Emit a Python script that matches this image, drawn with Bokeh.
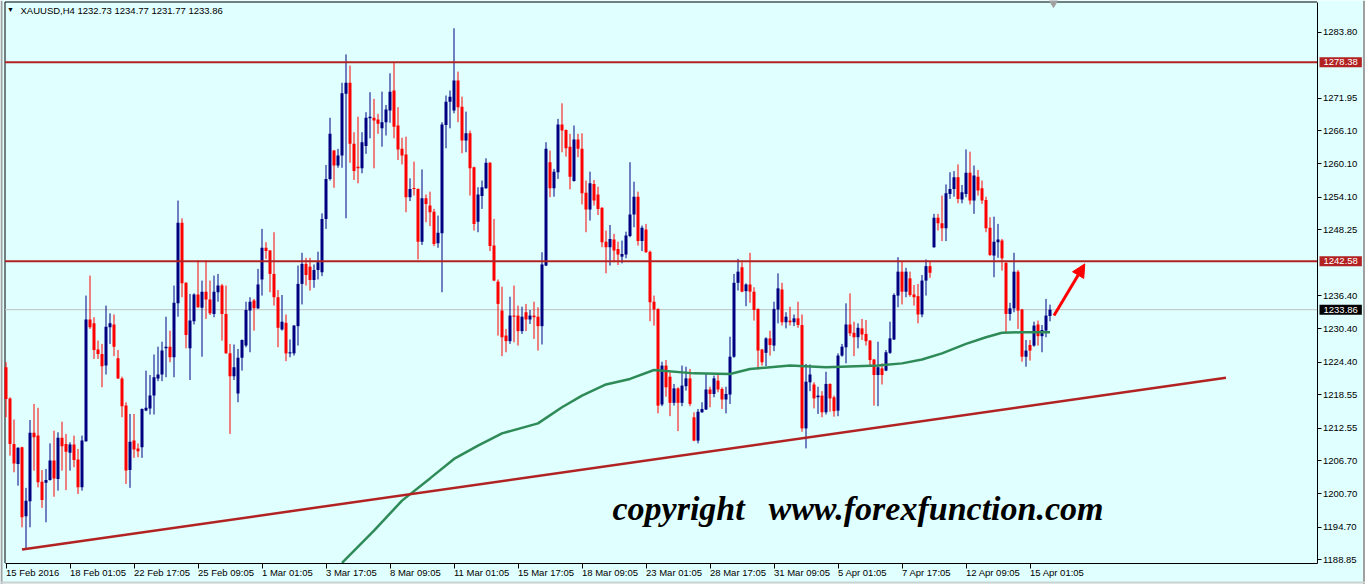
import numpy as np
from bokeh.plotting import figure
from bokeh.models import (Range1d, FixedTicker, Label, Arrow, NormalHead, ColumnDataSource,
                          LinearAxis)
from bokeh.core.properties import value
from bokeh.embed import file_html
from bokeh.resources import INLINE

# ---------------- data ----------------
symbol = "XAUUSD,H4"
last_ohlc = ["1232.73", "1234.77", "1231.77", "1233.86"]

opens = [1223.5, 1217.9, 1209.7, 1206.1, 1209.1, 1196.7, 1199.4, 1211.7, 1211.2, 1202.9,
         1202.7, 1203.2, 1206.7, 1203.4, 1210.8, 1209.7, 1208.1, 1209.6, 1206.9, 1201.9,
         1210.2, 1232.1, 1231.4, 1226.7, 1225.9, 1223.8, 1230.7, 1231.2, 1225.1, 1221.5,
         1216.6, 1205.0, 1210.3, 1208.9, 1209.1, 1215.7, 1216.1, 1218.4, 1221.5, 1222.2,
         1226.9, 1227.2, 1225.3, 1235.0, 1249.5, 1238.7, 1226.9, 1231.8, 1236.6, 1234.2,
         1237.1, 1235.7, 1233.1, 1237.0, 1238.2, 1233.1, 1226.0, 1221.9, 1218.8, 1225.2,
         1227.4, 1233.7, 1235.5, 1234.1, 1239.3, 1245.0, 1244.5, 1240.3, 1236.1, 1230.3,
         1231.5, 1226.0, 1226.0, 1230.9, 1238.5, 1242.1, 1241.6, 1239.2, 1241.0, 1240.6,
         1250.2, 1257.4, 1262.5, 1259.8, 1261.6, 1272.7, 1274.7, 1263.7, 1259.6, 1259.3,
         1263.3, 1268.3, 1268.4, 1268.1, 1266.5, 1267.6, 1269.7, 1273.3, 1267.0, 1262.8,
         1261.8, 1254.1, 1255.7, 1255.6, 1246.1, 1253.9, 1252.6, 1251.5, 1245.8, 1247.6,
         1267.1, 1271.3, 1269.7, 1275.1, 1270.4, 1264.3, 1265.6, 1259.5, 1249.7, 1254.3,
         1255.7, 1260.3, 1245.4, 1238.9, 1233.7, 1229.2, 1228.2, 1232.8, 1232.8, 1230.0,
         1233.4, 1232.1, 1232.8, 1232.6, 1230.9, 1241.8, 1260.4, 1255.7, 1258.6, 1267.2,
         1266.2, 1263.2, 1257.0, 1264.5, 1262.8, 1254.9, 1251.9, 1256.5, 1254.6, 1252.2,
         1246.1, 1245.1, 1246.5, 1244.8, 1243.4, 1243.8, 1247.1, 1251.0, 1254.2, 1246.2,
         1248.3, 1244.3, 1235.3, 1234.0, 1216.8, 1223.8, 1221.8, 1217.1, 1219.7, 1217.1,
         1220.1, 1221.5, 1214.5, 1210.3, 1215.4, 1215.9, 1219.5, 1218.7, 1221.1, 1219.6,
         1217.7, 1218.6, 1225.4, 1238.7, 1241.5, 1237.2, 1238.4, 1237.1, 1234.0, 1226.7,
         1226.1, 1228.7, 1227.4, 1233.9, 1237.5, 1231.6, 1231.9, 1231.6, 1232.3, 1231.1,
         1212.5, 1220.8, 1220.4, 1218.1, 1218.4, 1215.4, 1220.5, 1218.1, 1215.7, 1225.6,
         1227.1, 1231.2, 1229.7, 1228.9, 1230.5, 1229.5, 1228.3, 1224.9, 1222.1, 1223.3,
         1222.9, 1226.1, 1228.5, 1236.4, 1240.7, 1237.1, 1239.5, 1236.6, 1236.3, 1233.0,
         1239.1, 1241.7, 1245.1, 1250.4, 1249.4, 1248.5, 1254.7, 1255.6, 1257.7, 1253.7,
         1254.7, 1258.5, 1253.5, 1257.8, 1255.7, 1253.6, 1248.6, 1243.6, 1246.0, 1246.3,
         1242.3, 1233.1, 1234.1, 1240.7, 1233.9, 1225.4, 1227.5, 1227.4, 1231.2, 1229.1,
         1230.1, 1232.73]
highs = [1224.4, 1218.1, 1214.1, 1209.1, 1209.2, 1201.8, 1214.0, 1216.9, 1216.2, 1205.0,
         1205.2, 1209.8, 1212.1, 1211.8, 1213.7, 1211.5, 1210.0, 1211.2, 1208.8, 1211.2,
         1236.4, 1240.0, 1232.5, 1228.3, 1227.7, 1234.6, 1233.2, 1233.0, 1226.6, 1221.8,
         1217.2, 1215.1, 1215.1, 1209.8, 1216.1, 1222.9, 1222.1, 1225.8, 1227.2, 1228.1,
         1232.6, 1230.1, 1238.2, 1253.5, 1250.3, 1238.8, 1236.7, 1236.8, 1242.7, 1239.1,
         1242.7, 1239.1, 1240.0, 1240.3, 1238.5, 1238.2, 1227.7, 1227.6, 1226.8, 1228.5,
         1235.3, 1236.1, 1235.8, 1241.2, 1248.4, 1246.0, 1244.6, 1247.8, 1237.4, 1236.5,
         1233.0, 1228.5, 1231.1, 1241.8, 1244.1, 1243.2, 1243.2, 1242.0, 1244.3, 1251.2,
         1259.9, 1268.4, 1262.6, 1262.8, 1274.7, 1279.8, 1277.8, 1265.8, 1268.6, 1265.8,
         1269.4, 1273.0, 1271.8, 1269.1, 1273.1, 1270.7, 1276.4, 1278.4, 1270.3, 1264.8,
         1265.0, 1257.5, 1260.5, 1255.7, 1259.1, 1254.6, 1255.1, 1252.0, 1250.8, 1267.6,
         1272.4, 1273.3, 1284.5, 1276.7, 1272.2, 1269.5, 1266.1, 1259.6, 1255.9, 1257.1,
         1261.1, 1260.4, 1250.2, 1239.3, 1238.0, 1230.4, 1236.2, 1238.2, 1234.6, 1234.4,
         1234.9, 1233.8, 1235.3, 1234.3, 1244.2, 1264.0, 1262.5, 1259.2, 1268.2, 1271.0,
         1266.3, 1265.5, 1267.0, 1265.5, 1265.6, 1257.1, 1258.7, 1257.2, 1256.0, 1252.3,
         1248.1, 1249.1, 1247.5, 1246.1, 1246.3, 1247.9, 1260.4, 1256.9, 1255.1, 1249.0,
         1249.3, 1244.5, 1236.4, 1234.1, 1224.5, 1224.8, 1222.6, 1220.5, 1219.9, 1223.8,
         1223.6, 1223.2, 1215.4, 1216.0, 1217.2, 1222.3, 1220.0, 1222.0, 1222.4, 1219.9,
         1220.0, 1229.0, 1240.3, 1243.0, 1242.4, 1238.6, 1244.1, 1237.9, 1234.1, 1226.8,
         1228.9, 1230.1, 1235.3, 1240.4, 1238.7, 1233.4, 1234.4, 1233.0, 1235.3, 1233.0,
         1224.1, 1224.0, 1220.8, 1220.0, 1219.2, 1222.7, 1220.6, 1218.4, 1226.0, 1227.7,
         1235.0, 1236.8, 1231.7, 1231.4, 1232.2, 1232.0, 1228.4, 1225.0, 1228.1, 1224.2,
         1226.6, 1231.7, 1236.8, 1243.3, 1242.5, 1241.4, 1240.7, 1238.3, 1238.5, 1240.1,
         1242.9, 1242.6, 1251.1, 1251.1, 1254.4, 1256.4, 1258.6, 1258.8, 1260.0, 1256.3,
         1262.7, 1262.3, 1259.8, 1259.0, 1257.1, 1254.2, 1250.5, 1250.6, 1249.3, 1246.6,
         1242.4, 1235.1, 1244.1, 1241.0, 1234.0, 1228.4, 1228.4, 1231.7, 1231.9, 1231.1,
         1235.8, 1234.77]
lows = [1214.5, 1207.6, 1204.6, 1202.2, 1194.7, 1190.8, 1194.7, 1204.9, 1201.9, 1198.2,
        1195.6, 1203.1, 1200.2, 1201.3, 1204.9, 1201.4, 1204.9, 1205.5, 1200.7, 1201.3,
        1210.1, 1230.4, 1225.0, 1225.0, 1219.9, 1222.2, 1227.7, 1225.5, 1221.4, 1214.5,
        1202.5, 1201.8, 1207.2, 1207.3, 1207.2, 1215.6, 1215.0, 1215.0, 1221.0, 1221.0,
        1221.7, 1224.4, 1221.7, 1232.6, 1236.1, 1226.9, 1221.2, 1231.2, 1234.2, 1225.4,
        1232.2, 1232.9, 1232.5, 1235.3, 1228.3, 1225.9, 1211.5, 1221.2, 1217.2, 1222.9,
        1227.1, 1226.2, 1230.1, 1234.0, 1236.4, 1243.0, 1237.0, 1234.6, 1227.1, 1230.1,
        1224.6, 1225.3, 1225.6, 1227.4, 1234.8, 1238.2, 1237.3, 1237.8, 1239.3, 1239.9,
        1248.4, 1257.1, 1255.8, 1259.4, 1259.4, 1250.3, 1260.3, 1257.2, 1256.6, 1258.4,
        1261.9, 1264.7, 1259.3, 1265.5, 1263.2, 1265.2, 1267.5, 1264.7, 1260.8, 1260.0,
        1251.4, 1253.4, 1254.4, 1242.9, 1245.5, 1249.6, 1248.9, 1245.3, 1245.0, 1237.0,
        1262.9, 1266.5, 1269.2, 1267.6, 1262.0, 1262.2, 1254.4, 1248.1, 1247.8, 1252.0,
        1255.6, 1244.4, 1239.0, 1229.2, 1225.5, 1226.2, 1227.7, 1228.0, 1227.4, 1229.5,
        1230.0, 1231.3, 1228.6, 1226.5, 1227.6, 1241.7, 1254.1, 1254.2, 1257.4, 1262.2,
        1261.4, 1255.5, 1256.9, 1261.3, 1252.8, 1247.8, 1249.9, 1252.6, 1250.9, 1245.1,
        1240.4, 1241.8, 1242.4, 1241.9, 1242.2, 1243.1, 1246.9, 1248.7, 1245.4, 1244.4,
        1244.1, 1231.8, 1231.0, 1215.2, 1216.5, 1218.2, 1214.7, 1216.6, 1212.0, 1216.5,
        1219.3, 1216.5, 1210.2, 1209.8, 1215.3, 1215.8, 1216.3, 1218.1, 1219.0, 1216.0,
        1215.2, 1216.9, 1225.2, 1237.3, 1237.0, 1234.5, 1235.1, 1231.9, 1223.1, 1223.8,
        1223.7, 1225.6, 1226.4, 1231.4, 1231.0, 1230.5, 1231.0, 1230.9, 1230.6, 1211.9,
        1208.9, 1219.2, 1216.1, 1215.1, 1214.5, 1215.0, 1215.5, 1214.6, 1214.7, 1225.4,
        1224.2, 1229.1, 1225.5, 1226.9, 1228.4, 1227.4, 1223.6, 1216.6, 1216.5, 1220.4,
        1222.8, 1225.9, 1228.4, 1234.3, 1234.8, 1236.1, 1236.2, 1234.6, 1231.4, 1232.5,
        1236.4, 1239.6, 1245.0, 1248.1, 1246.2, 1246.2, 1253.8, 1254.2, 1253.0, 1253.0,
        1254.1, 1252.8, 1251.1, 1254.4, 1252.9, 1247.8, 1243.5, 1239.7, 1243.2, 1240.9,
        1229.6, 1231.9, 1233.4, 1230.4, 1224.5, 1223.6, 1224.7, 1227.2, 1227.4, 1226.2,
        1228.9, 1231.77]
closes = [1217.8, 1209.7, 1206.2, 1209.0, 1196.5, 1199.5, 1211.7, 1210.9, 1202.8, 1199.6,
          1203.2, 1206.7, 1203.5, 1210.8, 1209.3, 1208.3, 1209.6, 1206.8, 1201.9, 1210.3,
          1232.1, 1230.7, 1226.6, 1225.9, 1223.7, 1230.8, 1231.4, 1227.2, 1221.5, 1216.5,
          1204.9, 1210.1, 1208.7, 1208.4, 1216.0, 1216.2, 1218.4, 1221.7, 1222.2, 1226.5,
          1227.2, 1225.3, 1235.1, 1249.5, 1238.6, 1229.3, 1231.9, 1236.6, 1234.3, 1237.1,
          1235.7, 1233.2, 1237.1, 1238.2, 1233.1, 1226.0, 1221.9, 1223.5, 1225.2, 1228.4,
          1233.8, 1235.3, 1234.1, 1238.4, 1245.0, 1244.4, 1240.3, 1236.1, 1230.6, 1231.7,
          1226.0, 1226.2, 1231.0, 1238.5, 1242.1, 1240.1, 1239.2, 1241.0, 1242.4, 1250.2,
          1257.4, 1265.5, 1259.8, 1261.6, 1272.8, 1274.7, 1263.7, 1258.8, 1259.3, 1264.0,
          1268.4, 1268.6, 1267.9, 1267.3, 1267.6, 1269.9, 1273.1, 1266.8, 1262.7, 1261.6,
          1254.1, 1255.6, 1255.6, 1246.1, 1253.9, 1252.9, 1251.4, 1245.7, 1247.7, 1267.2,
          1271.3, 1272.2, 1275.1, 1270.3, 1264.3, 1265.6, 1259.3, 1249.3, 1254.6, 1255.9,
          1260.3, 1245.3, 1239.1, 1234.9, 1228.9, 1228.2, 1232.8, 1232.6, 1230.0, 1232.6,
          1232.1, 1232.8, 1232.5, 1230.9, 1242.0, 1262.8, 1255.7, 1258.7, 1267.2, 1266.1,
          1262.9, 1257.8, 1264.5, 1262.8, 1254.8, 1251.9, 1256.6, 1253.5, 1252.0, 1246.0,
          1245.1, 1246.6, 1244.5, 1243.8, 1243.9, 1247.2, 1251.0, 1254.2, 1246.2, 1248.6,
          1244.2, 1235.2, 1233.9, 1216.6, 1223.8, 1219.9, 1217.1, 1219.7, 1217.1, 1220.2,
          1221.5, 1216.9, 1210.3, 1215.5, 1216.0, 1219.5, 1218.7, 1221.5, 1219.5, 1217.7,
          1218.7, 1225.4, 1238.7, 1240.7, 1237.1, 1238.4, 1237.1, 1233.8, 1226.5, 1224.4,
          1228.7, 1227.5, 1234.0, 1237.7, 1231.6, 1232.6, 1231.6, 1232.3, 1231.1, 1212.5,
          1220.9, 1222.2, 1217.9, 1218.4, 1215.4, 1220.5, 1217.9, 1215.6, 1225.6, 1227.2,
          1231.2, 1229.6, 1228.9, 1230.6, 1229.4, 1228.2, 1224.8, 1222.1, 1223.5, 1222.1,
          1226.2, 1228.7, 1236.5, 1240.7, 1237.1, 1240.7, 1236.5, 1236.1, 1233.0, 1239.1,
          1241.7, 1240.5, 1250.4, 1249.4, 1248.5, 1254.8, 1255.6, 1257.7, 1253.8, 1255.0,
          1258.5, 1253.5, 1258.0, 1255.3, 1253.5, 1248.5, 1243.7, 1246.1, 1246.5, 1243.1,
          1233.1, 1234.1, 1240.7, 1233.7, 1225.4, 1226.5, 1226.5, 1231.0, 1229.1, 1230.2,
          1232.8, 1233.86]

ma_index = [84, 92, 99, 106, 112, 118, 124, 133, 139, 144, 150, 156, 162, 172, 181,
            186, 196, 205, 218, 224, 229, 234, 240, 245, 249, 254, 261]
ma_value = [1188.3, 1194.1, 1199.5, 1203.5, 1207.0, 1209.4, 1211.6, 1213.4, 1216.3,
            1218.4, 1220.4, 1221.4, 1223.0, 1222.4, 1222.3, 1223.2, 1223.8, 1223.5,
            1223.8, 1224.2, 1224.9, 1226.0, 1227.7, 1228.9, 1229.7, 1229.8, 1229.8]

trend_index = [4, 305]
trend_value = [1190.7, 1221.6]

level_values = [1278.38, 1242.58]
level_labels = ["1278.38", "1242.58"]
bid_value = 1233.86
bid_label = "1233.86"

arrow_index = [262, 269.7]
arrow_value = [1232.8, 1242.1]

date_ticks = [0, 16, 32, 48, 64, 80, 96, 112, 128, 144, 160, 176, 192, 208, 224, 240, 256]
date_labels = ["15 Feb 2016", "18 Feb 01:05", "22 Feb 17:05", "25 Feb 09:05", "1 Mar 01:05",
               "3 Mar 17:05", "8 Mar 09:05", "11 Mar 01:05", "15 Mar 17:05", "18 Mar 09:05",
               "23 Mar 01:05", "28 Mar 17:05", "31 Mar 09:05", "5 Apr 01:05", "7 Apr 17:05",
               "12 Apr 09:05", "15 Apr 01:05"]

price_ticks = [1283.80, 1271.95, 1266.10, 1260.10, 1254.10, 1248.25, 1236.40, 1230.40,
               1224.40, 1218.55, 1212.55, 1206.70, 1200.70, 1194.70, 1188.85]
price_labels = ["1283.80", "1271.95", "1266.10", "1260.10", "1254.10", "1248.25", "1236.40",
                "1230.40", "1224.40", "1218.55", "1212.55", "1206.70", "1200.70", "1194.70",
                "1188.85"]

copyright_words = ["copyright", "www.forexfunction.com"]

# ---------------- layout ----------------
BG = "#E0FFFF"
BULL = "#000080"
BEAR = "#FF0000"
LEVEL = "#B22222"
MA_COLOR = "#2E8B57"
FONT = "Liberation Sans"

W, H = 1365, 584
CANDLE_PX = 4.0
X0 = -5.5 / CANDLE_PX
X1 = X0 + W / CANDLE_PX
PX = 5.557                      # pixels per price unit
Y1 = 1289.50
Y0 = Y1 - H / PX


def dx(px):
    return X0 + px / CANDLE_PX


def dy(py):
    return Y1 - py / PX


X_LEFT, X_AX = dx(4.5), dx(1316.5)
Y_TOP, Y_AX = dy(1.5), dy(562.5)

p = figure(frame_width=W, frame_height=H,
           x_range=Range1d(X0, X1), y_range=Range1d(Y0, Y1),
           x_axis_location=None, y_axis_location=None, min_border=0,
           output_backend="svg", toolbar_location=None,
           background_fill_color=BG, border_fill_color=BG, outline_line_color=None)
p.grid.visible = False

# price scale (drawn at the chart's right edge)
ya = LinearAxis(fixed_location=X_AX, bounds=(Y_AX, Y_TOP),
                ticker=FixedTicker(ticks=price_ticks),
                major_label_overrides={v: s for v, s in zip(price_ticks, price_labels)},
                major_tick_out=4, major_tick_in=0, minor_tick_out=0, minor_tick_in=0,
                major_label_standoff=2, axis_line_color="black",
                major_tick_line_color="black", major_label_text_font=FONT,
                major_label_text_font_size="9.5px", major_label_text_color="black")
p.add_layout(ya, "right")

# time scale (ticks only; its labels are left aligned texts below)
xa = LinearAxis(fixed_location=Y_AX, bounds=(X_LEFT, X_AX),
                ticker=FixedTicker(ticks=date_ticks),
                major_label_overrides={t: "" for t in date_ticks},
                major_tick_out=5, major_tick_in=0, minor_tick_out=0, minor_tick_in=0,
                axis_line_color="black", major_tick_line_color="black",
                major_label_text_font_size="9.5px")
p.add_layout(xa, "below")

p.text(x=date_ticks, y=[dy(572)] * len(date_ticks), text=date_labels,
       text_align="left", text_baseline="middle", text_font=value(FONT),
       text_font_size=value("9.5px"), text_color="black")

# chart frame (left and top) and window edges
p.segment(x0=[X_LEFT, X_LEFT], y0=[Y_AX, Y_TOP], x1=[X_LEFT, X_AX], y1=[Y_TOP, Y_TOP],
          line_color="black", line_width=1)
p.segment(x0=[dx(1), dx(1363.5)], y0=[Y0, Y0], x1=[dx(1), dx(1363.5)], y1=[Y1, Y1],
          line_color="#A0A0A0", line_width=2)
p.segment(x0=[X0], y0=[dy(582)], x1=[X1], y1=[dy(582)], line_color="#D0D0D0", line_width=2)
p.scatter(x=[dx(1053)], y=[dy(2.5)], marker="inverted_triangle", size=8,
          fill_color="#A0A0A0", line_color="#A0A0A0")

# bid line behind candles
p.segment(x0=[X_LEFT], y0=[bid_value], x1=[X_AX], y1=[bid_value],
          line_color="#C0C0C0", line_width=1)

# candles
o = np.array(opens)
h = np.array(highs)
l = np.array(lows)
c = np.array(closes)
idx = np.arange(len(o))
bull = c >= o
bottom = np.minimum(o, c)
top = np.maximum(np.maximum(o, c), bottom + 1.0 / PX)
colors = np.where(bull, BULL, BEAR)
src = ColumnDataSource(dict(x=idx, h=h, l=l, top=top, bottom=bottom, color=colors))
p.segment(x0="x", y0="l", x1="x", y1="h", line_color="color", line_width=1, source=src)
p.vbar(x="x", width=0.75, top="top", bottom="bottom", fill_color="color",
       line_color=None, source=src)

# moving average and trend line
p.line(ma_index, ma_value, line_color=MA_COLOR, line_width=2.5)
p.line(trend_index, trend_value, line_color=LEVEL, line_width=2.5)

# horizontal levels
p.segment(x0=[X_LEFT] * len(level_values), y0=level_values,
          x1=[X_AX] * len(level_values), y1=level_values,
          line_color=LEVEL, line_width=2)

# arrow
p.add_layout(Arrow(end=NormalHead(size=13, fill_color="red", line_color="red"),
                   x_start=arrow_index[0], y_start=arrow_value[0],
                   x_end=arrow_index[1], y_end=arrow_value[1],
                   line_color="red", line_width=3))

# price boxes on the price scale
for v, s, bgc in list(zip(level_values, level_labels, [LEVEL, LEVEL])) + [(bid_value, bid_label, "black")]:
    p.add_layout(Label(x=dx(1319), y=v, text=s, text_align="left", text_baseline="middle",
                       text_font=FONT, text_font_size="9.5px", text_color="white",
                       background_fill_color=bgc, padding=(4, 2)))

# header
p.add_layout(Label(x=dx(10), y=dy(9), text="\u25bc", text_align="center",
                   text_baseline="middle", text_font=FONT, text_font_size="7px",
                   text_color="black"))
p.add_layout(Label(x=dx(20), y=dy(10),
                   text=symbol + "  " + " ".join(last_ohlc), text_align="left",
                   text_baseline="middle", text_font=FONT, text_font_size="9.5px",
                   text_color="black"))

# copyright watermark
for word, xpx in zip(copyright_words, [612, 768]):
    p.add_layout(Label(x=dx(xpx), y=dy(508), text=word, text_align="left",
                       text_baseline="middle", text_font="Liberation Serif",
                       text_font_style="bold italic", text_font_size="34px",
                       text_color="black"))

open("out.html", "w").write(file_html(p, INLINE))
